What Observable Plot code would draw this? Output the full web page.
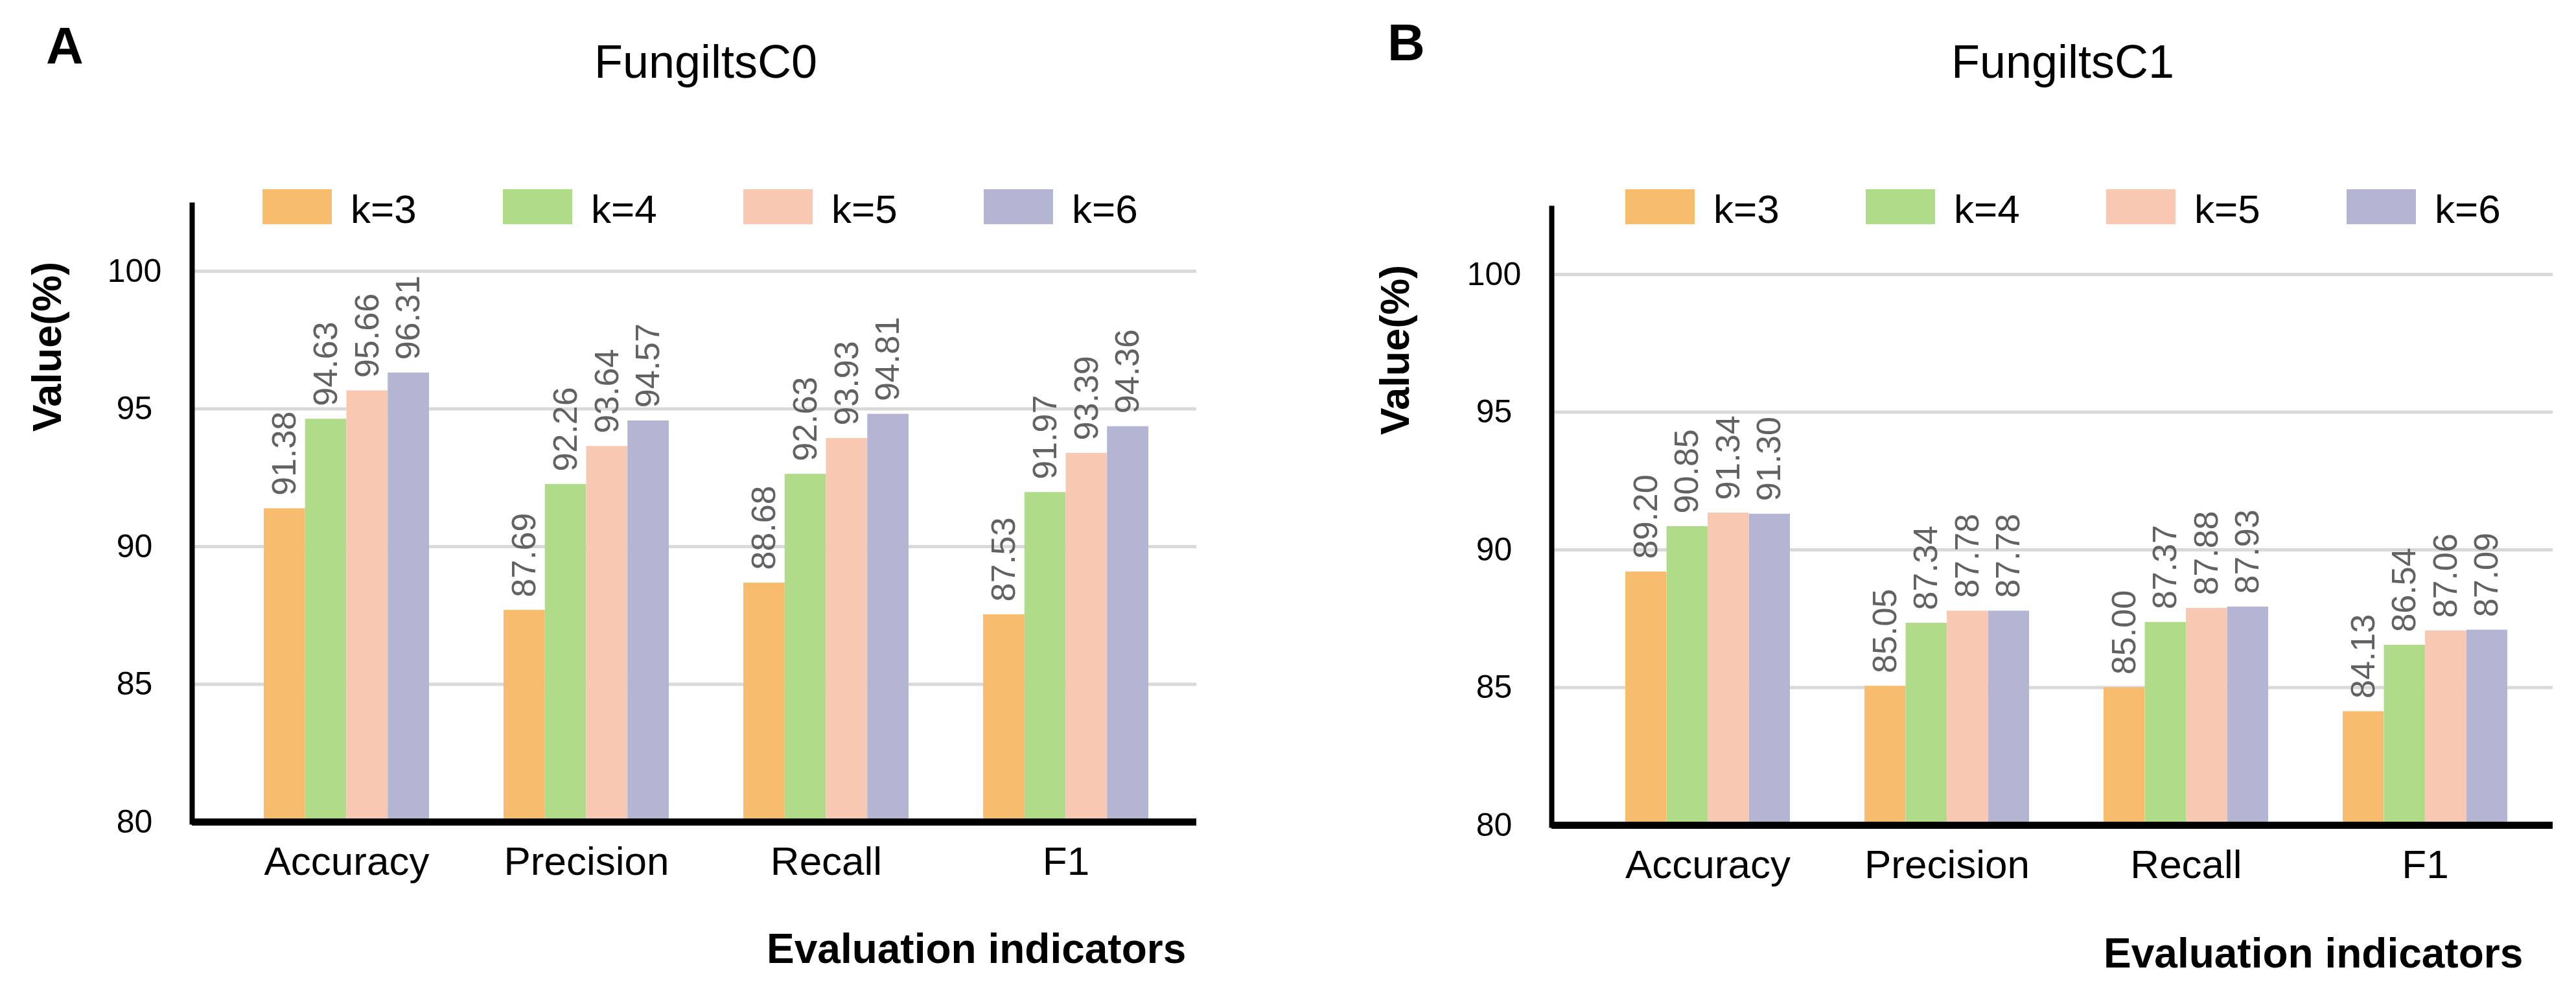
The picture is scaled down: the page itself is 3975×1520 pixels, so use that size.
<!DOCTYPE html>
<html>
<head>
<meta charset="utf-8">
<script src="https://cdn.jsdelivr.net/npm/d3@7"></script>
<script src="https://cdn.jsdelivr.net/npm/@observablehq/plot@0.6"></script>
<style>
  html, body { margin: 0; padding: 0; background: #fff; }
  body { width: 3975px; height: 1520px; position: relative; overflow: hidden;
         font-family: "Liberation Sans", Arial, Helvetica, sans-serif; }
  .abs { position: absolute; white-space: nowrap; line-height: 1; color: #000; }
  .panel { position: absolute; top: 0; }
</style>
</head>
<body>
<script>
// ---------- data ----------
const metrics = ["Accuracy", "Precision", "Recall", "F1"];
const ks = ["k=3", "k=4", "k=5", "k=6"];
const colors = ["#F8BC6E", "#B0DB88", "#F9C8B3", "#B4B5D3"];
const yTicks = [80, 85, 90, 95, 100];

// FungiltsC0 (values per metric: Accuracy, Precision, Recall, F1)
const c0_k3 = [91.38, 87.69, 88.68, 87.53];
const c0_k4 = [94.63, 92.26, 92.63, 91.97];
const c0_k5 = [95.66, 93.64, 93.93, 93.39];
const c0_k6 = [96.31, 94.57, 94.81, 94.36];

// FungiltsC1
const c1_k3 = [89.20, 85.05, 85.00, 84.13];
const c1_k4 = [90.85, 87.34, 87.37, 86.54];
const c1_k5 = [91.34, 87.78, 87.88, 87.06];
const c1_k6 = [91.30, 87.78, 87.93, 87.09];

const panels = [
  { letter: "A", title: "FungiltsC0", series: [c0_k3, c0_k4, c0_k5, c0_k6],
    left: 0, width: 1990, height: 1400, marginLeft: 296, marginRight: 144, marginTop: 316, marginBottom: 132,
    align: 0.6, letterX: 71, letterBase: 99, titleCx: 1089, titleBase: 120,
    legendX: 405, legendTop: 292, legendBase: 344, yLabX: 72, yLabY: 535, evalX: 1183, evalBase: 1486 },
  { letter: "B", title: "FungiltsC1", series: [c1_k3, c1_k4, c1_k5, c1_k6],
    left: 1990, width: 1985, height: 1400, marginLeft: 404, marginRight: 36, marginTop: 321, marginBottom: 127,
    align: 0.62, letterX: 2141, letterBase: 94, titleCx: 3183, titleBase: 120,
    legendX: 2508, legendTop: 292, legendBase: 344, yLabX: 2152, yLabY: 540, evalX: 3246, evalBase: 1493 }
];

const fontFamily = '"Liberation Sans", Arial, Helvetica, sans-serif';
const fmt = d3.format(".2f");
const yTop = 102.4;
const paddingInner = 0.312, paddingOuter = 0.247;

function addText(txt, left, baseline, fs, opts = {}) {
  const d = document.createElement("div");
  d.className = "abs";
  d.textContent = txt;
  d.style.fontSize = fs + "px";
  d.style.top = (baseline - 0.8465 * fs) + "px";
  if (opts.center) {
    d.style.left = (left - 600) + "px";
    d.style.width = "1200px";
    d.style.textAlign = "center";
  } else {
    d.style.left = left + "px";
  }
  if (opts.bold) d.style.fontWeight = "bold";
  document.body.appendChild(d);
  return d;
}

for (const p of panels) {
  // band scale, to know the width of one group of bars
  const xScale = Plot.scale({
    x: { type: "band", domain: metrics, range: [p.marginLeft, p.width - p.marginRight],
         paddingInner, paddingOuter, align: p.align }
  });
  const bw = xScale.bandwidth;
  const sub = bw / ks.length;

  const marks = [
    Plot.gridY(yTicks.slice(1), { stroke: "#d9d9d9", strokeOpacity: 1, strokeWidth: 5 })
  ];
  ks.forEach((k, j) => {
    const rows = metrics.map((m, i) => ({ metric: m, k, value: p.series[j][i] }));
    marks.push(Plot.barY(rows, {
      x: "metric", y1: yTicks[0], y2: "value", fill: colors[j],
      insetLeft: j * sub, insetRight: (ks.length - 1 - j) * sub
    }));
    marks.push(Plot.text(rows, {
      x: "metric", y: "value", text: d => fmt(d.value), rotate: -90, textAnchor: "start",
      dx: -bw / 2 + (j + 0.5) * sub, dy: -20, fontSize: 52, fill: "#626262"
    }));
  });
  marks.push(
    Plot.axisY(yTicks, { tickSize: 0, tickPadding: 89, textAnchor: "middle", fontSize: 50, label: null, fill: "#000" }),
    Plot.axisX({ tickSize: 0, tickPadding: 37, fontSize: 62, label: null, fill: "#000" }),
    Plot.frame({ anchor: "left", stroke: "#000", strokeWidth: 8 }),
    Plot.ruleY([yTicks[0]], { stroke: "#000", strokeWidth: 11 })
  );

  const chart = Plot.plot({
    width: p.width, height: p.height,
    marginLeft: p.marginLeft, marginRight: p.marginRight,
    marginTop: p.marginTop, marginBottom: p.marginBottom,
    style: { fontFamily, background: "transparent", overflow: "visible" },
    x: { type: "band", domain: metrics, paddingInner, paddingOuter, align: p.align, label: null },
    y: { domain: [yTicks[0], yTop], label: null },
    marks
  });
  const wrap = document.createElement("div");
  wrap.className = "panel";
  wrap.style.left = p.left + "px";
  wrap.appendChild(chart);
  document.body.appendChild(wrap);

  // panel letter and title
  addText(p.letter, p.letterX, p.letterBase, 80, { bold: true });
  addText(p.title, p.titleCx, p.titleBase, 72, { center: true });

  // legend
  ks.forEach((k, j) => {
    const x0 = p.legendX + j * 371;
    const sw = document.createElement("div");
    sw.className = "abs";
    Object.assign(sw.style, { left: x0 + "px", top: p.legendTop + "px", width: "107px", height: "54px", background: colors[j] });
    document.body.appendChild(sw);
    addText(k, x0 + 136, p.legendBase, 62);
  });

  // y-axis title
  const yl = document.createElement("div");
  yl.className = "abs";
  yl.textContent = "Value(%)";
  Object.assign(yl.style, { left: p.yLabX + "px", top: p.yLabY + "px", fontSize: "63px", fontWeight: "bold",
    transform: "translate(-50%, -50%) rotate(-90deg)" });
  document.body.appendChild(yl);

  // x-axis title
  addText("Evaluation indicators", p.evalX, p.evalBase, 64, { bold: true });
}
</script>
</body>
</html>
